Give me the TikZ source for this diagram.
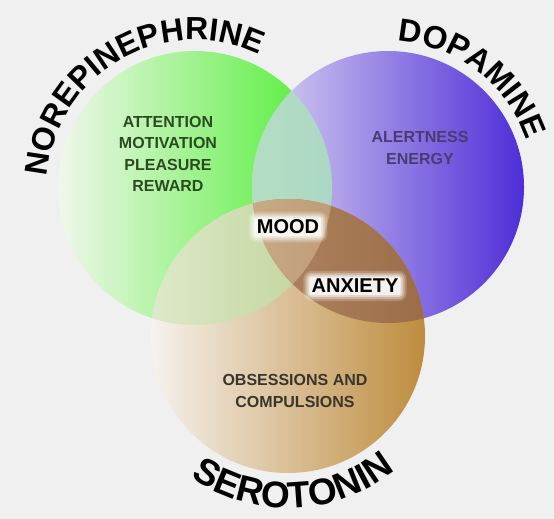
\documentclass[tikz,border=0pt]{standalone}
\usepackage{fontspec}
\setmainfont{Liberation Sans}
\usetikzlibrary{decorations.text}
\definecolor{bgc}{HTML}{F0F0F0}
\definecolor{gL}{HTML}{F0F7EC}
\definecolor{gR}{HTML}{4CEE2E}
\definecolor{pL}{HTML}{DCD6F2}
\definecolor{pR}{HTML}{4F2DD8}
\definecolor{tL}{HTML}{F6F2EE}
\definecolor{tR}{HTML}{BE8C3E}
\definecolor{gpL}{HTML}{B4DEC2}
\definecolor{gpR}{HTML}{98C6CA}
\definecolor{gtL}{HTML}{DDE9C9}
\definecolor{gtR}{HTML}{B0C67E}
\definecolor{ptL}{HTML}{BC9672}
\definecolor{ptR}{HTML}{9C6C48}
\definecolor{allL}{HTML}{D4BC9C}
\definecolor{allR}{HTML}{B48C64}
\definecolor{ntxt}{HTML}{2B4A22}
\definecolor{dtxt}{HTML}{4A3C72}
\definecolor{stxt}{HTML}{3A342E}
\newcommand{\arcfont}{\fontsize{32}{32}\bfseries\selectfont}
\newcommand{\serfont}{\fontsize{37}{37}\bfseries\selectfont}
\pgfdeclarelayer{front}
\pgfsetlayers{main,front}
\tikzset{
  inner/.style={align=center, inner sep=0pt, font=\fontsize{16}{21.3}\bfseries\selectfont},
  big/.style={inner sep=0pt, font=\fontsize{20}{20}\bfseries\selectfont, text=black},
  arclabel/.style={decorate, decoration={text along path, text align=center}}
}
\begin{document}
\begin{tikzpicture}[x=1pt,y=1pt]
\useasboundingbox (0,0) rectangle (554,-519);
\fill[bgc] (0,0) rectangle (554,-519);
\coordinate (G) at (195,-188);
\coordinate (P) at (388,-187);
\coordinate (T) at (288,-336);
% circles
\shade[left color=gL, right color=gR] (G) circle (137);
\shade[left color=pL, right color=pR] (P) circle (136);
\shade[left color=tL, right color=tR] (T) circle (137);
% overlaps
\begin{scope}
  \clip (G) circle (137);
  \shade[left color=gpL, right color=gpR] (P) circle (136);
\end{scope}
\begin{scope}
  \clip (G) circle (137);
  \shade[left color=gtL, right color=gtR] (T) circle (137);
\end{scope}
\begin{scope}
  \clip (P) circle (136);
  \shade[left color=ptL, right color=ptR] (T) circle (137);
\end{scope}
\begin{scope}
  \clip (G) circle (137);
  \clip (P) circle (136);
  \shade[left color=allL, right color=allR] (T) circle (137);
\end{scope}
% curved titles
\path[arclabel, decoration={text={|\arcfont|NOREPINEPHRINE}}]
  ([shift={(200:148)}]G) arc[start angle=200, end angle=40, radius=148];
\path[arclabel, decoration={text={|\arcfont|DOPAMINE}}]
  ([shift={(130:146)}]P) arc[start angle=130, end angle=-25, radius=146];
\path[arclabel, decoration={text={|\serfont|SEROTONIN}}]
  ([shift={(195:172)}]T) arc[start angle=195, end angle=349, radius=172];
% inner labels
\node[inner, text=ntxt] (nore) at (168,-154) {ATTENTION\\MOTIVATION\\PLEASURE\\REWARD};
\node[inner, text=dtxt] (dopa) at (420,-148) {ALERTNESS\\ENERGY};
\node[inner, text=stxt] (sero) at (295,-391) {OBSESSIONS AND\\COMPULSIONS};
\begin{pgfonlayer}{front}
\node[big] (mood) at (288,-227) {MOOD};
\node[big] (anx) at (355,-286) {ANXIETY};
\end{pgfonlayer}
\foreach \n in {mood,anx}{
  \foreach \s/\o in {8/0.2,6/0.3,4/0.45,2/0.7}{
    \fill[white, opacity=\o, rounded corners=\s pt]
      ([shift={(-\s pt,-\s pt)}]\n.south west) rectangle ([shift={(\s pt,\s pt)}]\n.north east);
  }
}
\end{tikzpicture}
\end{document}
